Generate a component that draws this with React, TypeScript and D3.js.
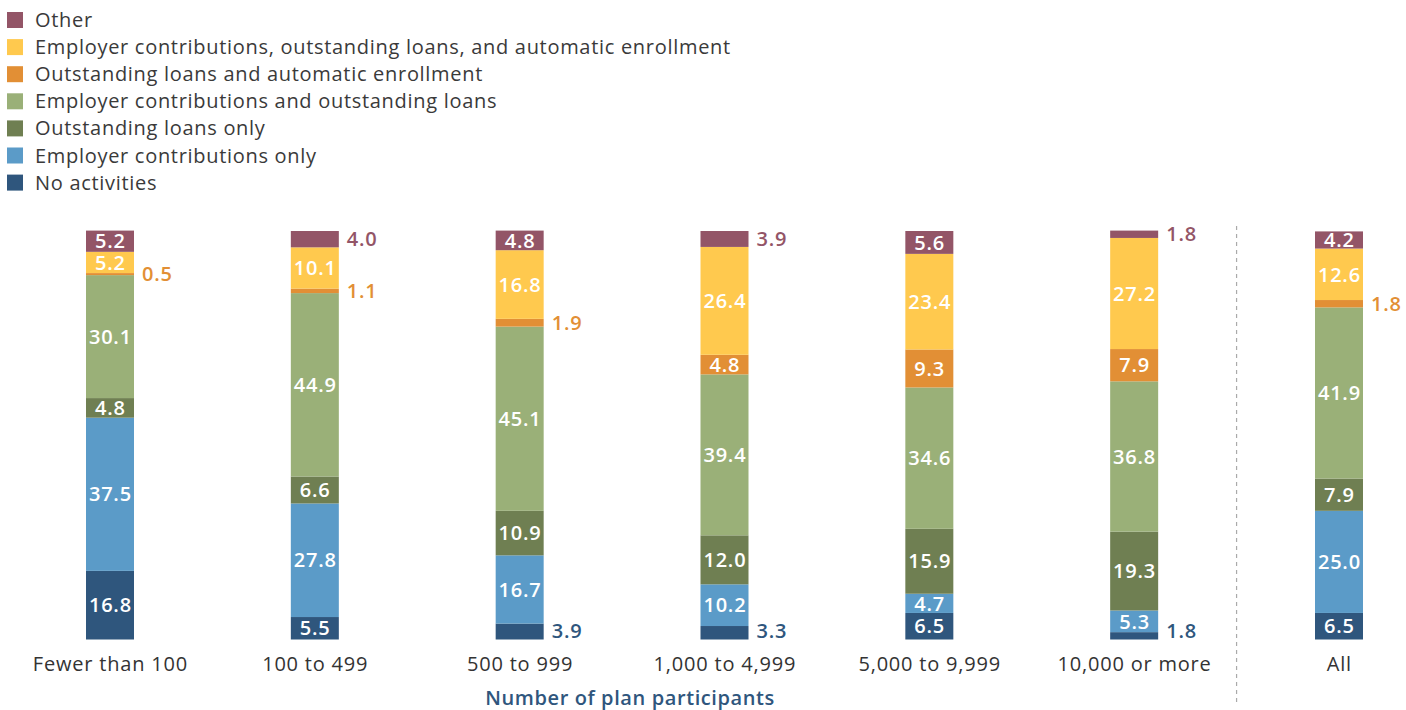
import React from "react";
import * as d3 from "d3";

const categories = [
  "Fewer than 100",
  "100 to 499",
  "500 to 999",
  "1,000 to 4,999",
  "5,000 to 9,999",
  "10,000 or more",
  "All",
];

const seriesNames = [
  "No activities",
  "Employer contributions only",
  "Outstanding loans only",
  "Employer contributions and outstanding loans",
  "Outstanding loans and automatic enrollment",
  "Employer contributions, outstanding loans, and automatic enrollment",
  "Other",
];

const seriesColors = ["#2F567D", "#5B9BC8", "#6F7F52", "#9AB078", "#E28F35", "#FFC94E", "#935567"];

const noActivities = [16.8, 5.5, 3.9, 3.3, 6.5, 1.8, 6.5];
const employerOnly = [37.5, 27.8, 16.7, 10.2, 4.7, 5.3, 25.0];
const loansOnly = [4.8, 6.6, 10.9, 12.0, 15.9, 19.3, 7.9];
const employerAndLoans = [30.1, 44.9, 45.1, 39.4, 34.6, 36.8, 41.9];
const loansAndAuto = [0.5, 1.1, 1.9, 4.8, 9.3, 7.9, 1.8];
const allThree = [5.2, 10.1, 16.8, 26.4, 23.4, 27.2, 12.6];
const other = [5.2, 4.0, 4.8, 3.9, 5.6, 1.8, 4.2];

const seriesValues = [noActivities, employerOnly, loansOnly, employerAndLoans, loansAndAuto, allThree, other];

const axisTitle = "Number of plan participants";
const FONT = "'Open Sans', Lato, sans-serif";

export default function App() {
  const W = 1406;
  const H = 710;
  const x = d3.scalePoint<string>().domain(categories).range([110, 1339]);
  const y = d3.scaleLinear().domain([0, 100]).range([639.5, 231]);
  const barW = 48;

  const table = categories.map((c, i) => {
    const row: any = { cat: c };
    seriesNames.forEach((s, j) => (row[s] = seriesValues[j][i]));
    return row;
  });
  const stacked = d3.stack<any>().keys(seriesNames)(table);

  const legendOrder = [...seriesNames].map((s, j) => ({ s, j })).reverse();
  const sepX = ((x(categories[5]) as number) + (x(categories[6]) as number)) / 2;
  const titleX = ((x(categories[0]) as number) + (x(categories[5]) as number)) / 2 + 8;

  return (
    <svg width={W} height={H} style={{ position: "absolute", left: 0, top: 0, background: "#fff" }}>
      {/* legend */}
      {legendOrder.map(({ s, j }, k) => (
        <g key={s} transform={`translate(0, ${20 + k * 27.1})`}>
          <rect x={7} y={-8} width={16} height={16} fill={seriesColors[j]} />
          <text x={35} y={0} dy="0.35em" fontFamily={FONT} fontSize={20} letterSpacing={0.7} fill="#3a3a3a">
            {s}
          </text>
        </g>
      ))}

      {/* separator */}
      <line x1={sepX} x2={sepX} y1={226} y2={702} stroke="#aaa" strokeWidth={1.2} strokeDasharray="4,4" />

      {/* bars */}
      {stacked.map((layer, j) => (
        <g key={layer.key}>
          {layer.map((d, i) => {
            const cx = x(categories[i]) as number;
            const y0 = y(d[0]);
            const y1 = y(d[1]);
            const v = seriesValues[j][i];
            const inside = v >= 4.1;
            let ly = (y0 + y1) / 2;
            if (!inside) ly = Math.min(ly, 631);
            return (
              <g key={i}>
                <rect x={cx - barW / 2} y={y1} width={barW} height={y0 - y1} fill={seriesColors[j]} />
                {inside ? (
                  <text x={cx + 0.4} y={ly} dy="0.36em" textAnchor="middle" fontFamily={FONT} fontWeight="600" fontSize={20} letterSpacing={0.8} fill="#fff">
                    {v.toFixed(1)}
                  </text>
                ) : (
                  <text x={cx + barW / 2 + 8} y={ly} dy="0.36em" textAnchor="start" fontFamily={FONT} fontWeight="600" fontSize={20} letterSpacing={0.8} fill={seriesColors[j]}>
                    {v.toFixed(1)}
                  </text>
                )}
              </g>
            );
          })}
        </g>
      ))}

      {/* category labels */}
      {categories.map((c) => (
        <text key={c} x={(x(c) as number) + 0.4} y={671} textAnchor="middle" fontFamily={FONT} fontSize={20} letterSpacing={0.8} fill="#333">
          {c}
        </text>
      ))}

      <text x={titleX} y={705} textAnchor="middle" fontFamily={FONT} fontWeight="600" fontSize={20} letterSpacing={0.6} fill="#2F567D">
        {axisTitle}
      </text>
    </svg>
  );
}
